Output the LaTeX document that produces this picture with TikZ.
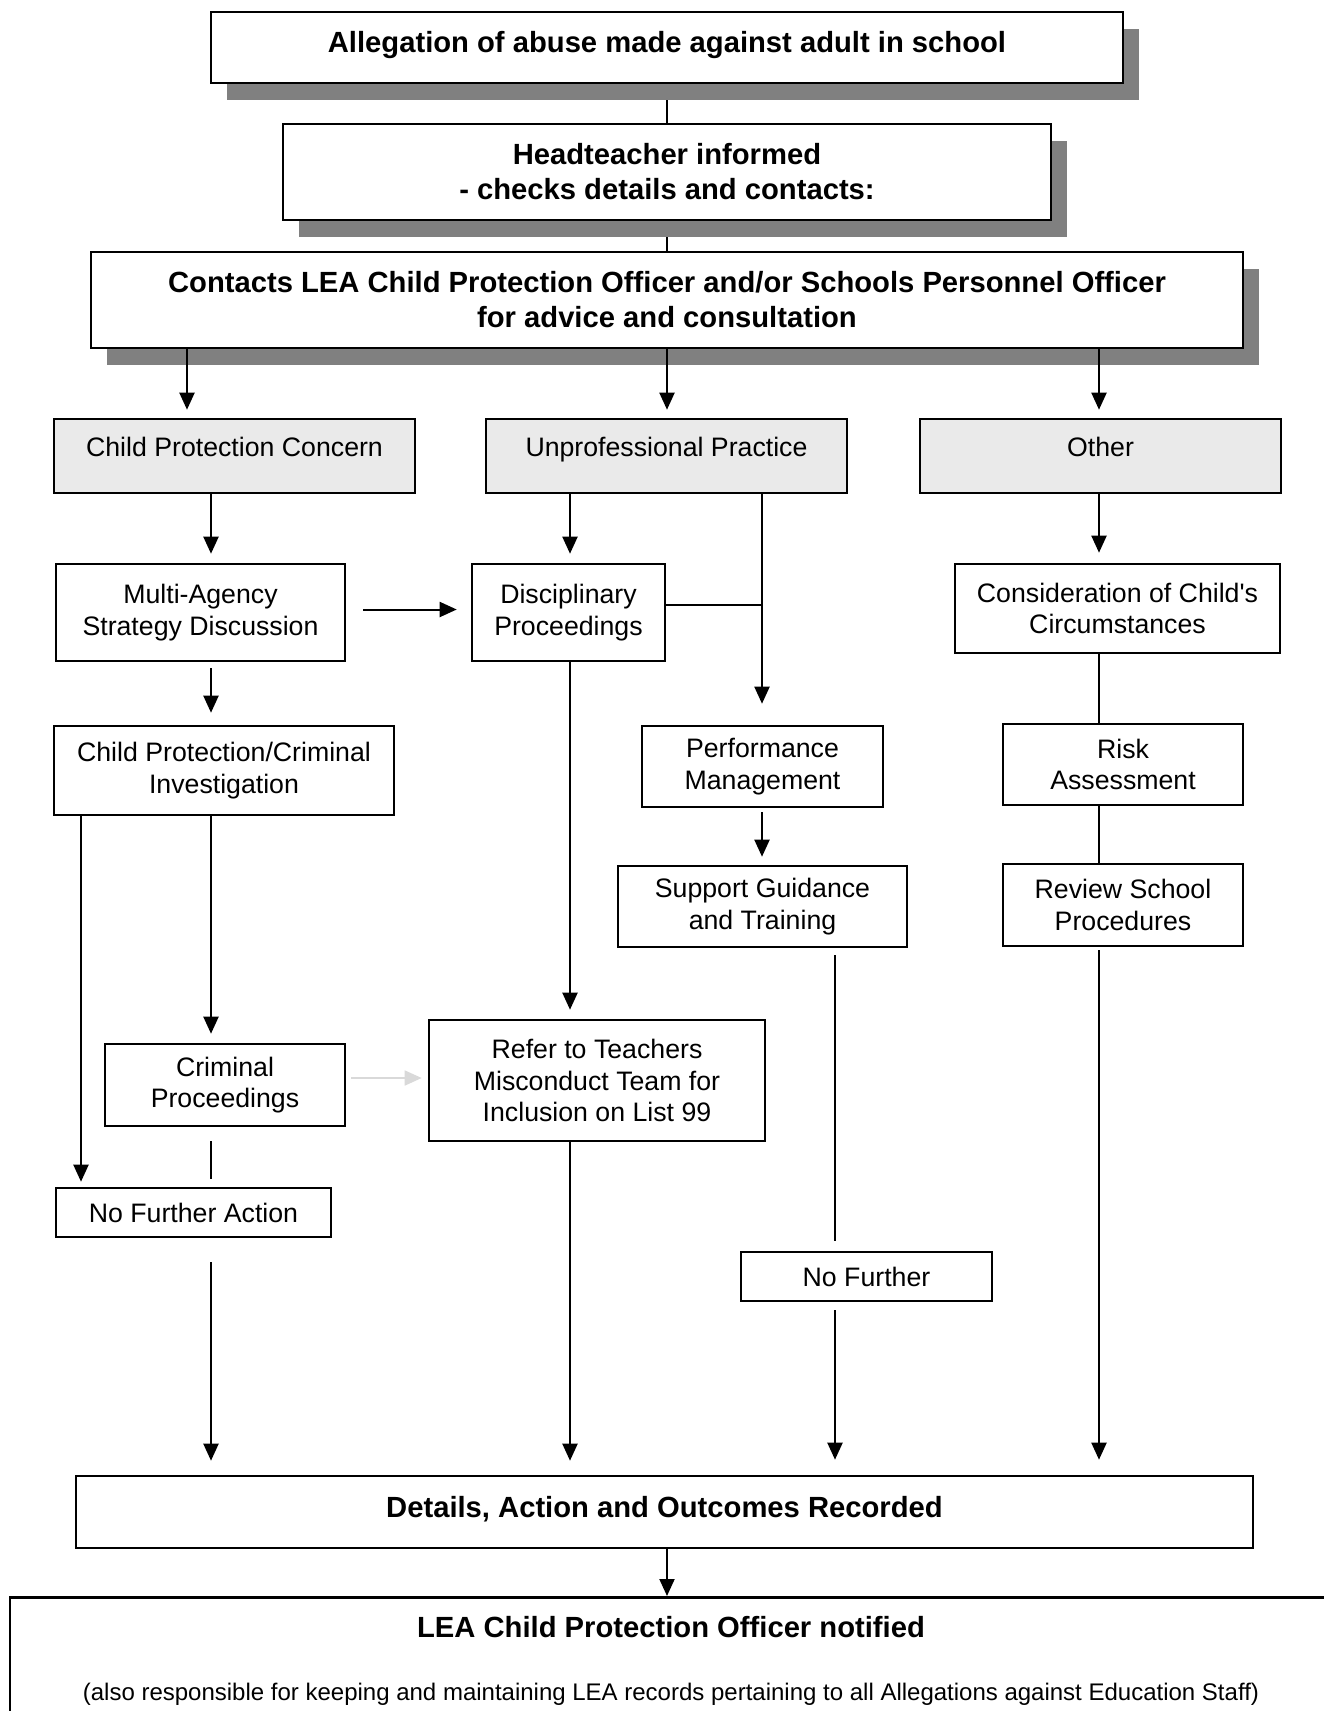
\documentclass[tikz,border=0pt]{standalone}
\usepackage{fontspec}
\setmainfont{Liberation Sans}
\usetikzlibrary{
  arrows.meta,
  shadows,
  backgrounds,
}
\definecolor{shadowgrey}{HTML}{808080}
\definecolor{catgrey}{HTML}{EAEAEA}
\definecolor{fadegrey}{HTML}{D9D9D9}
\tikzset{
  box/.style={draw, line width=2.6pt, align=center, inner sep=0pt, fill=white,
    font=\fontsize{26.7}{31.5}\selectfont},
  bold/.style={font=\bfseries\fontsize{29.2}{35}\selectfont},
  headbox/.style={box, bold, general shadow={fill=shadowgrey, shadow xshift=16pt, shadow yshift=-17pt}},
  catbox/.style={box, fill=catgrey, text depth=18pt},
  link/.style={line width=2pt},
  arr/.style={link, -{Triangle[length=17pt,width=15pt]}},
}

\begin{document}
\begin{tikzpicture}[x=1pt, y=-1pt]
\path[use as bounding box] (0,0) rectangle (1324,1711);
\clip (0,0) rectangle (1324,1711);

\node[headbox, minimum width=912pt, minimum height=71pt, text depth=12pt] (alleg) at (667,47.5) {Allegation of abuse made against adult in school};
\node[headbox, minimum width=768pt, minimum height=96pt] (head) at (667,172) {Headteacher informed\\- checks details and contacts:};
\node[headbox, minimum width=1152pt, minimum height=96pt] (contact) at (667,300) {Contacts LEA Child Protection Officer and/or Schools Personnel Officer\\for advice and consultation};

\foreach \n/\x/\t in {cpc/234.5/Child Protection Concern, unprof/666.5/Unprofessional Practice, other/1100.5/Other}
  \node[catbox, minimum width=361pt, minimum height=74pt] (\n) at (\x,456) {\t};

\node[box, minimum width=289pt, minimum height=97pt] (multi) at (200.5,612.5) {Multi-Agency\\Strategy Discussion};
\node[box, minimum width=193pt, minimum height=97pt] (disc) at (568.5,612.5) {Disciplinary\\Proceedings};
\node[box, minimum width=325pt, minimum height=89pt] (consid) at (1117.5,608.5) {Consideration of Child\textquotesingle s\\Circumstances};
\node[box, minimum width=340pt, minimum height=89pt] (cpci) at (224,770.5) {Child Protection/Criminal\\Investigation};
\node[box, minimum width=241pt, minimum height=81pt] (perf) at (762.5,766.5) {Performance\\Management};
\node[box, minimum width=240pt, minimum height=81pt] (risk) at (1123,764.5) {Risk\\Assessment};
\node[box, minimum width=289pt, minimum height=81pt] (support) at (762.5,906.5) {Support Guidance\\and Training};
\node[box, minimum width=240pt, minimum height=82pt] (review) at (1123,905) {Review School\\Procedures};
\node[box, minimum width=240pt, minimum height=82pt] (crim) at (225,1085) {Criminal\\Proceedings};
\node[box, minimum width=336pt, minimum height=121pt] (refer) at (597,1080.5) {Refer to Teachers\\Misconduct Team for\\Inclusion on List 99};
\node[box, minimum width=275pt, minimum height=49pt] (nfa) at (193.5,1212.5) {No Further Action};
\node[box, minimum width=251pt, minimum height=49pt] (nf) at (866.5,1276.5) {No Further};
\node[box, bold, minimum width=1177pt, minimum height=72pt, text depth=10pt] (details) at (664.5,1512) {Details, Action and Outcomes Recorded};
\node[box, bold, anchor=north, minimum width=1322pt, inner ysep=19pt] (lea) at (671,1596) {LEA Child Protection Officer notified\\[28pt]{\mdseries\fontsize{24}{29}\selectfont(also responsible for keeping and maintaining LEA records pertaining to all Allegations against Education Staff)}};

\coordinate (colA) at (81,0);
\coordinate (colB) at (187,0);
\coordinate (colC) at (211,0);
\coordinate (colD) at (570,0);
\coordinate (colE) at (667,0);
\coordinate (colF) at (762,0);
\coordinate (colG) at (835,0);
\coordinate (colH) at (1099,0);

\begin{scope}[on background layer]
\fill[white] (0,0) rectangle (1324,1711);
\draw[link] (alleg) -- (head);
\draw[link] (head) -- (contact);
\end{scope}

\foreach \c/\n in {colB/cpc, colE/unprof, colH/other}
  \draw[arr, shorten >=8pt] (contact.south -| \c) -- (\n.north -| \c);
\draw[arr, shorten >=9pt] (cpc.south -| colC) -- (multi.north -| colC);
\draw[arr, shorten >=9pt] (unprof.south -| colD) -- (disc.north -| colD);
\draw[arr, shorten >=21pt] (unprof.south -| colF) -- (perf.north -| colF);
\draw[link] ([yshift=8pt]disc.east) -- ([yshift=8pt]disc.east -| colF);
\draw[arr, shorten >=10pt] (other.south -| colH) -- (consid.north -| colH);
\draw[arr, shorten <=17pt, shorten >=14pt] ([yshift=3pt]multi.east) -- ([yshift=3pt]disc.west);
\draw[arr, shorten <=6pt, shorten >=12pt] (multi.south -| colC) -- (cpci.north -| colC);
\draw[arr, shorten >=5pt] (cpci.south -| colA) -- (nfa.north -| colA);
\draw[arr, shorten >=9pt] (cpci.south -| colC) -- (crim.north -| colC);
\draw[arr, color=fadegrey, line width=1.6pt, shorten <=5pt, shorten >=6pt] ([yshift=7pt]crim.east) -- ([yshift=7pt]crim.east -| refer.west);
\draw[link, shorten <=14pt, shorten >=8pt] (crim.south -| colC) -- (nfa.north -| colC);
\draw[arr, shorten >=9pt] (disc.south -| colD) -- (refer.north -| colD);
\draw[arr, shorten <=4pt, shorten >=8pt] (perf.south -| colF) -- (support.north -| colF);
\draw[link] (consid.south -| colH) -- (risk.north -| colH);
\draw[link] (risk.south -| colH) -- (review.north -| colH);
\draw[link, shorten <=7pt, shorten >=10pt] (support.south -| colG) -- (nf.north -| colG);
\draw[arr, shorten <=24pt, shorten >=14pt] (nfa.south -| colC) -- (details.north -| colC);
\draw[arr, shorten >=14pt] (refer.south -| colD) -- (details.north -| colD);
\draw[arr, shorten <=8pt, shorten >=15pt] (nf.south -| colG) -- (details.north -| colG);
\draw[arr, shorten <=3pt, shorten >=15pt] (review.south -| colH) -- (details.north -| colH);
\draw[arr] (details.south -| colE) -- (lea.north -| colE);
\end{tikzpicture}
\end{document}
